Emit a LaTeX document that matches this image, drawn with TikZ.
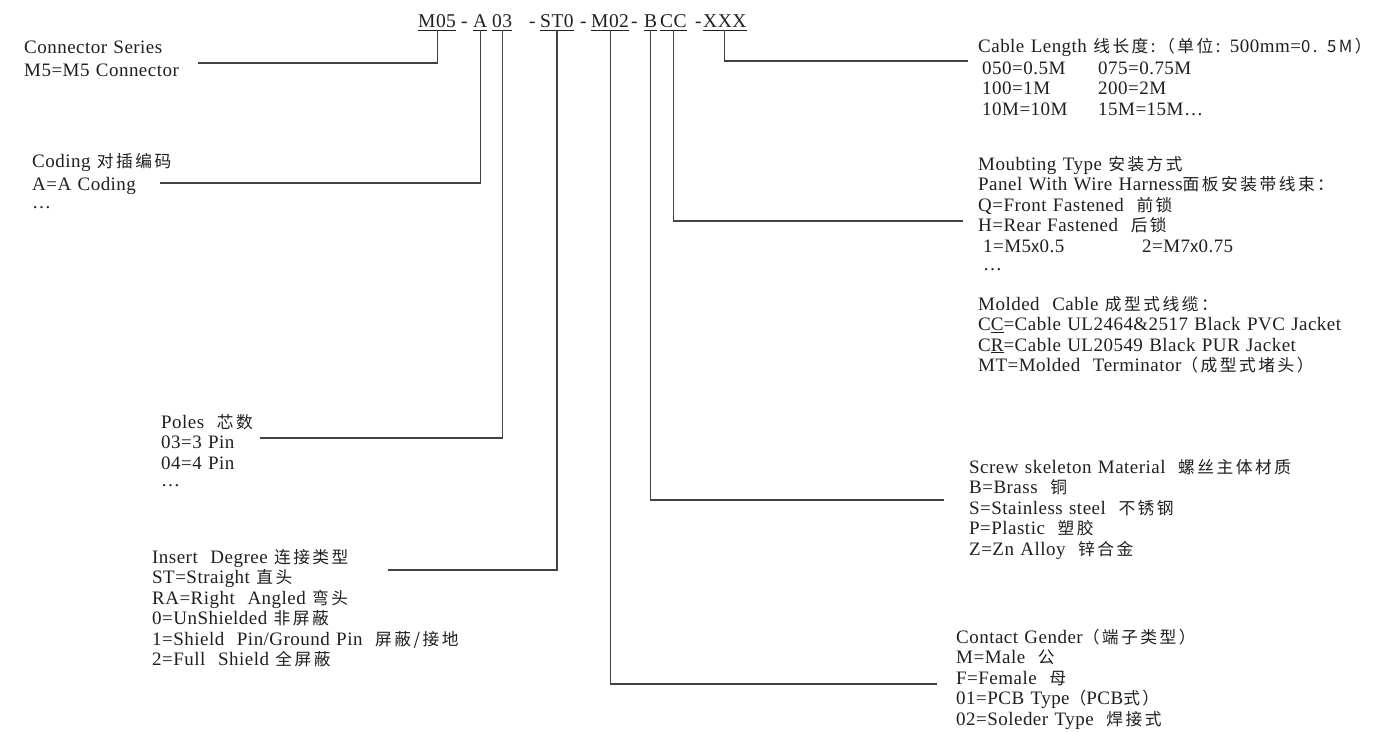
\documentclass[tikz,border=0pt]{standalone}
\usepackage{fontspec}
\setmainfont{Liberation Serif}[LetterSpace=2.5]
\newfontfamily\cjk{Noto Sans CJK SC}[Scale=0.88,LetterSpace=15]
\definecolor{ink}{HTML}{231F20}
\setlength{\lineskiplimit}{-100pt}
\begin{document}
\begin{tikzpicture}[x=1pt,y=-1pt,
  lbl/.style={anchor=base west, inner sep=0pt, text width=420pt, align=left, text=ink,
    font=\fontsize{19}{20.5}\selectfont},
  code/.style={anchor=base west, inner sep=0pt, text depth=3pt, text=ink,
    font=\fontsize{19.5}{20}\selectfont},
  wire/.style={draw=ink!85, line width=1.2pt},
  uline/.style={draw=ink, line width=0.9pt}]
\useasboundingbox[fill=white] (0,0) rectangle (1392,731);

% code line
\node[code] (m05) at (418,27) {M05};
\node[code] (d1) at (461,27) {-};
\node[code] (ca) at (473,27) {A};
\node[code] (c03) at (492,27) {03};
\node[code] (d2) at (529,27) {-};
\node[code] (st0) at (540,27) {ST0};
\node[code] (d3) at (580,27) {-};
\node[code] (m02) at (591,27) {M02};
\node[code] (d4) at (631,27) {-};
\node[code] (cb) at (644,27) {B};
\node[code] (ccc) at (660,27) {CC};
\node[code] (d5) at (695,27) {-};
\node[code] (xxx) at (703,27) {XXX};
\foreach \n in {m05,ca,c03,st0,m02,cb,ccc,xxx}
  \draw[uline] (\n.south west) -- (\n.south east);

% left labels
\node[lbl, font=\fontsize{19}{23}\selectfont] (series) at (24,53)
  {Connector Series\\M5=M5 Connector};
\node[lbl] (coding) at (32,167)
  {Coding {\cjk 对插编码}\\[3pt]A=A Coding\\[-3pt]\ldots};
\node[lbl] (poles) at (161,428)
  {Poles\ \ {\cjk 芯数}\\03=3 Pin\\04=4 Pin\\[-3pt]\ldots};
\node[lbl] (insert) at (152,563)
  {Insert\ \ Degree {\cjk 连接类型}\\ST=Straight {\cjk 直头}\\RA=Right\ \ Angled {\cjk 弯头}\\0=UnShielded {\cjk 非屏蔽}\\1=Shield\ \ Pin/Ground Pin\ \ {\cjk 屏蔽/接地}\\2=Full\ \ Shield {\cjk 全屏蔽}};

% right labels
\node[lbl] (length) at (978,52)
  {Cable Length {\cjk 线长度:（单位:} 500mm={\cjk 0. 5M）}\\[1.5pt]
   \hspace*{4pt}\makebox[116pt][l]{050=0.5M}075=0.75M\\
   \hspace*{4pt}\makebox[116pt][l]{100=1M}200=2M\\
   \hspace*{4pt}\makebox[116pt][l]{10M=10M}15M=15M\ldots};
\node[lbl] (mount) at (978,170)
  {Moubting Type {\cjk 安装方式}\\Panel With Wire Harness{\cjk 面板安装带线束：}\\Q=Front Fastened\ \ {\cjk 前锁}\\H=Rear Fastened\ \ {\cjk 后锁}\\
   \hspace*{5pt}\makebox[159pt][l]{1=M5{\cjk x}0.5}2=M7{\cjk x}0.75\\[-2pt]\hspace*{5pt}\ldots};
\node[lbl] (molded) at (978,310)
  {Molded\ \ Cable {\cjk 成型式线缆：}\\C\underline{C}=Cable UL2464\&2517 Black PVC Jacket\\C\underline{R}=Cable UL20549 Black PUR Jacket\\MT=Molded\ \ Terminator{\cjk （成型式堵头）}};
\node[lbl] (screw) at (969,473)
  {Screw skeleton Material\ \ {\cjk 螺丝主体材质}\\B=Brass\ \ {\cjk 铜}\\S=Stainless steel\ \ {\cjk 不锈钢}\\P=Plastic\ \ {\cjk 塑胶}\\Z=Zn Alloy\ \ {\cjk 锌合金}};
\node[lbl] (gender) at (956,643)
  {Contact Gender{\cjk （端子类型）}\\M=Male\ \ {\cjk 公}\\F=Female\ \ {\cjk 母}\\01=PCB Type{\cjk （}PCB{\cjk 式）}\\02=Soleder Type\ \ {\cjk 焊接式}};

% connector ends
\coordinate (e1) at (198,63);
\coordinate (e2) at (160,183);
\coordinate (e3) at (260,438);
\coordinate (e4) at (388,570);
\coordinate (e5) at (937,684);
\coordinate (e6) at (944,500);
\coordinate (e7) at (963,221);
\coordinate (e8) at (968,61);

\draw[wire] (m05.south) |- (e1);
\draw[wire] (ca.south) |- (e2);
\draw[wire] (c03.south) |- (e3);
\draw[wire] (st0.south) |- (e4);
\draw[wire] (m02.south) |- (e5);
\draw[wire] (cb.south) |- (e6);
\draw[wire] (ccc.south) |- (e7);
\draw[wire] (xxx.south) |- (e8);
\end{tikzpicture}
\end{document}
